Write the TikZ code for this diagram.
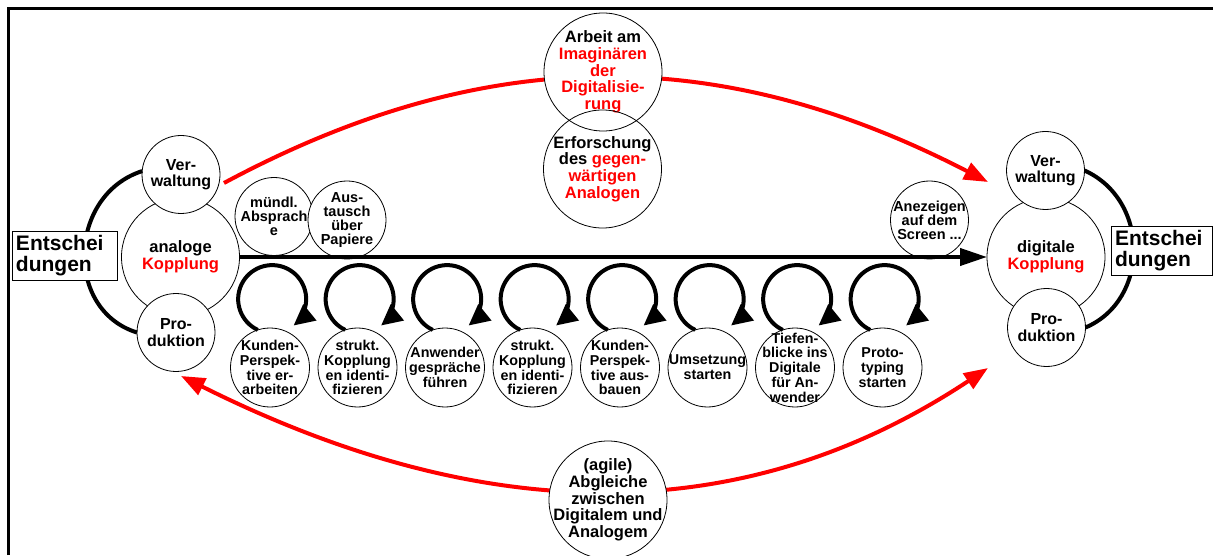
\documentclass[tikz,border=0pt]{standalone}
\usepackage{fontspec}
\setmainfont{Liberation Sans}
\usetikzlibrary{positioning,arrows.meta}

\begin{document}
\begin{tikzpicture}[x=1pt,y=1pt,
  bub/.style={circle,draw,fill=white,line width=0.8pt,inner sep=-12pt,outer sep=0pt,align=center},
  big/.style={bub,minimum size=118pt,font=\bfseries\fontsize{16.5}{16.7}\selectfont},
  mid/.style={bub,minimum size=78pt,font=\bfseries\fontsize{16}{16.3}\selectfont},
  task/.style={bub,minimum size=79pt,font=\bfseries\fontsize{14.3}{14.8}\selectfont},
  talk/.style={bub,minimum size=78pt,font=\bfseries\fontsize{14.5}{14}\selectfont},
  decide/.style={draw,fill=white,line width=1pt,align=left,text width=97pt,inner sep=4pt,minimum height=48pt,font=\bfseries\fontsize{21}{21}\selectfont},
  bow/.style={line width=4pt},
  loopy/.style={line width=4pt,-{Triangle[length=21pt,width=20pt]}},
  redbow/.style={red,line width=4pt,-{Triangle[length=24pt,width=18pt]}},
  redboth/.style={red,line width=4pt,{Triangle[length=24pt,width=18pt]}-{Triangle[length=24pt,width=18pt]}}]
  \useasboundingbox (0,0) rectangle (1213,555);
  \draw[line width=3pt] (8,0) -- (8,546) -- (1213,546);

  \coordinate (ts) at (224,372);
  \coordinate (te) at (988,373);
  \coordinate (bs) at (181,179);
  \coordinate (be) at (988,187);
  \draw[redbow] (ts) .. controls (485,512) and (719,512) .. (te);
  \draw[redboth] (bs) .. controls (487,26) and (745,26) .. (be);

  \node[big] (ak) at (180.5,298) {analoge\\\textcolor{red}{Kopplung}};
  \node[mid] (vl) at (181,380.5) {Ver-\\waltung};
  \node[mid] (pl) at (176,222.5) {Pro-\\duktion};
  \node[big] (dk) at (1046,298) {digitale\\\textcolor{red}{Kopplung}};
  \node[mid] (vr) at (1045.5,384.5) {Ver-\\waltung};
  \node[mid] (pr) at (1046.5,227.5) {Pro-\\duktion};

  \draw[bow] (vl.175) .. controls (68,360) and (64,245) .. (pl.west);
  \draw[bow] (vr.east) .. controls (1150,355) and (1150,255) .. (pr.east);
  \node[decide] (el) at (64.5,299) {Entschei\\dungen};
  \node[decide,text width=93pt] (er) at (1161.5,304) {Entschei\\dungen};

  \node[big] (arb) at (603,483) {Arbeit am\\\textcolor{red}{Imagin\"aren}\\\textcolor{red}{der}\\\textcolor{red}{Digitalisie-}\\\textcolor{red}{rung}};
  \node[big,fill=none] (erf) at (602.5,386) {Erforschung\\des \textcolor{red}{gegen-}\\\textcolor{red}{w\"artigen}\\\textcolor{red}{Analogen}};
  \node[big] (agl) at (608,55) {(agile)\\Abgleiche\\zwischen\\Digitalem und\\Analogem};

  \node[talk] (mue) at (274,338.5) {m\"undl.\\Absprach\\e};
  \node[talk] (aus) at (347,335) {Aus-\\tausch\\\"uber\\Papiere};
  \node[talk] (anz) at (929.5,335) {Anezeigen\\auf dem\\Screen ...};
  \path[line width=4pt,-{Triangle[length=27pt,width=17pt]}] (ak) edge (dk);

  \node[task] (k1) at (270,187.5) {Kunden-\\Perspek-\\tive er-\\arbeiten};
  \node[task,right=8.5pt of k1] (k2) {strukt.\\Kopplung\\en identi-\\fizieren};
  \node[task,right=8.5pt of k2] (k3) {Anwender\\gespr\"ache\\f\"uhren};
  \node[task,right=8.5pt of k3] (k4) {strukt.\\Kopplung\\en identi-\\fizieren};
  \node[task,right=8.5pt of k4] (k5) {Kunden-\\Perspek-\\tive aus-\\bauen};
  \node[task,right=8.5pt of k5] (k6) {Umsetzung\\starten};
  \node[task,right=8.5pt of k6] (k7) {Tiefen-\\blicke ins\\Digitale\\f\"ur An-\\wender};
  \node[task,right=8.5pt of k7] (k8) {Proto-\\typing\\starten};

  \draw[loopy] (k1.108) arc[start angle=245,end angle=-51,radius=34pt];
  \draw[loopy] (k2.108) arc[start angle=245,end angle=-51,radius=34pt];
  \draw[loopy] (k3.108) arc[start angle=245,end angle=-51,radius=34pt];
  \draw[loopy] (k4.108) arc[start angle=245,end angle=-51,radius=34pt];
  \draw[loopy] (k5.108) arc[start angle=245,end angle=-51,radius=34pt];
  \draw[loopy] (k6.108) arc[start angle=245,end angle=-51,radius=34pt];
  \draw[loopy] (k7.108) arc[start angle=245,end angle=-51,radius=34pt];
  \draw[loopy] (k8.108) arc[start angle=245,end angle=-51,radius=34pt];
\end{tikzpicture}
\end{document}
